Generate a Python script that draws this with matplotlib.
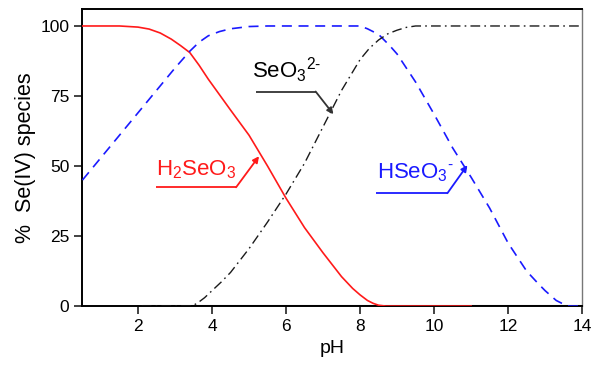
import numpy as np
import matplotlib
matplotlib.use("Agg")
import matplotlib.pyplot as plt

plt.rcParams["font.family"] = ["Liberation Sans", "DejaVu Sans"]
plt.rcParams["mathtext.fontset"] = "custom"
plt.rcParams["mathtext.rm"] = "Liberation Sans"
plt.rcParams["mathtext.it"] = "Liberation Sans:italic"

# species distribution of Se(IV) vs pH
ph_h2seo3 = [0.5, 1.5, 2.0, 2.3, 2.6, 2.9, 3.15, 3.4, 3.65, 3.9, 4.5, 5.0,
             5.5, 6.0, 6.5, 7.0, 7.5, 7.8, 8.0, 8.2, 8.35, 8.5, 8.7, 11.0]
h2seo3 = [100, 100, 99.6, 98.9, 97.5, 95.3, 93.0, 90.5, 86.0, 81, 70, 61,
          50, 38.5, 28, 19, 10.5, 6.3, 4, 2.0, 1.0, 0.3, 0, 0]

ph_hseo3 = [0.5, 1.0, 1.5, 2.0, 2.5, 3.0, 3.4, 3.65, 3.9, 4.2, 4.5, 5.0, 5.5,
            8.0, 8.2, 8.5, 8.8, 9.0, 9.5, 10.0, 10.5, 11.0, 11.5, 12.0, 12.5,
            12.8, 13.0, 13.3, 13.6, 14.0]
hseo3 = [45, 53, 61, 69, 77, 85, 91, 94.2, 96.5, 98.0, 99, 99.8, 100,
         100, 99, 97, 93, 90, 80, 68.5, 56.5, 46, 35, 22.5, 12.5,
         8.2, 5.5, 2, 0, 0]

ph_seo3 = [2.1, 3.45, 3.6, 3.8, 4.0, 4.25, 4.5, 5.0, 5.5, 6.0, 6.5, 7.0, 7.5,
           8.0, 8.25, 8.5, 8.75, 9.0, 9.25, 9.5, 14.0]
seo3 = [0, 0, 1.0, 3.0, 5.5, 8.6, 12, 20.5, 30, 40, 51, 64, 77,
        88, 92, 95, 97.2, 98.5, 99.5, 100, 100]

baseline_ph = [2.1, 14.0]
yticks = [0, 25, 50, 75, 100]
xticks = [2, 4, 6, 8, 10, 12, 14]

fig = plt.figure(figsize=(6.02, 3.67), dpi=100)
ax = fig.add_axes([0.137, 0.166, 0.830, 0.809])

ax.plot(baseline_ph, [0, 0], color="black", lw=2.2, solid_capstyle="butt", zorder=2)
ax.plot(ph_h2seo3, h2seo3, color="#ff1a1a", lw=1.2, zorder=3)
ax.plot(ph_hseo3, hseo3, color="#1a1aff", lw=1.2, ls=(0, (6, 4)), zorder=3)
ax.plot(ph_seo3, seo3, color="#1a1a1a", lw=1.0, ls=(0, (7, 3, 1.2, 3)), zorder=3)


def leader(text, tx, ty, x0, x1, yl, tip, color, tcolor=None):
    ax.text(tx, ty, text, color=tcolor or color, fontsize=16, ha="left", va="baseline")
    ax.plot([x0, x1], [yl, yl], color=color, lw=1.3, solid_capstyle="butt")
    ax.annotate("", xy=tip, xytext=(x1, yl),
                arrowprops=dict(arrowstyle="-|>", color=color, lw=1.3,
                                mutation_scale=9, shrinkA=0, shrinkB=0))


leader(r"$\mathrm{H_2SeO_3}$", 2.5, 46.5, 2.48, 4.65, 42.4, (5.27, 53.5), "#ff1a1a")
leader(r"$\mathrm{SeO_3{}^{2\text{-}}}$", 5.08, 81.3, 5.19, 6.8, 76.6, (7.28, 68.5),
       "#333333", "black")
leader(r"$\mathrm{HSeO_3{}^{\text{-}}}$", 8.46, 45.6, 8.43, 10.36, 40.3, (10.9, 50.3), "#1a1aff")

ax.set_xlim(0.5, 14)
ax.set_ylim(0, 106)
ax.set_xticks(xticks)
ax.set_yticks(yticks)
ax.tick_params(direction="out", length=6, width=1.2, labelsize=12.5, color="#222222")
ax.set_xlabel("pH", fontsize=14, labelpad=4)
ax.set_ylabel("%  Se(IV) species", fontsize=15.5)
ax.yaxis.set_label_coords(-0.093, 0.5)

for side in ["left", "bottom", "top"]:
    ax.spines[side].set_linewidth(1.4)
    ax.spines[side].set_color("black")
ax.spines["right"].set_linewidth(1.0)
ax.spines["right"].set_color("#777777")

fig.savefig("out.png", dpi=100)
